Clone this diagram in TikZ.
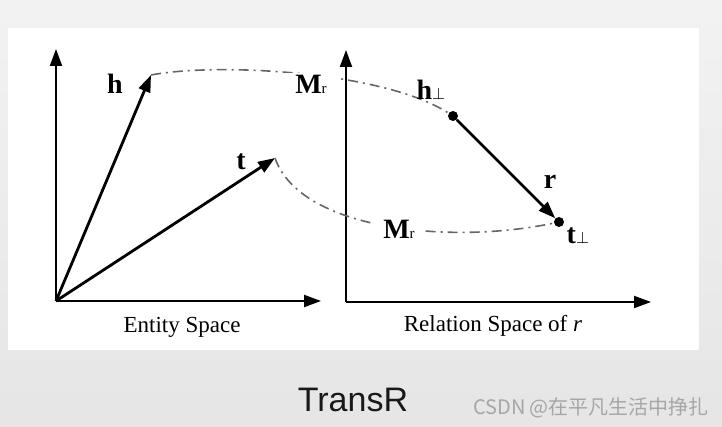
\documentclass[tikz,border=0pt]{standalone}
\usepackage{fontspec}
\setmainfont{Liberation Serif}
\newfontfamily\arialfont{Liberation Sans}
\newfontfamily\cjkfont{Noto Sans CJK SC}
\usetikzlibrary{arrows.meta}

\newcommand{\subr}{{\fontsize{7.5}{8}\selectfont\mdseries r}}
\newcommand{\subperp}{{\fontsize{8}{8}\selectfont$\perp$}}

\begin{document}
\begin{tikzpicture}[
    x=0.5pt, y=-0.5pt,
    >={Triangle[length=8.5pt,width=6pt]},
    axis/.style={->, line width=1pt},
    vec/.style={->, line width=1.4pt},
    proj/.style={draw=black!60, line width=0.8pt, dash pattern=on 5pt off 2.5pt on 1pt off 2.5pt},
    lbl/.style={font=\fontsize{14}{16}\selectfont\bfseries, inner sep=1pt},
    matlbl/.style={lbl, fill=white, inner xsep=5pt},
    spacename/.style={font=\fontsize{11.5}{13}\selectfont},
    dot/.style={circle, fill=black, inner sep=0pt, minimum size=5pt},
  ]
  \shade[top color=black!5, bottom color=black!10] (0,0) rectangle (722,427);
  \fill[white] (8,28) rectangle (699,350);

  % entity space
  \coordinate (o1) at (56,301);
  \coordinate (y1) at (56,49);
  \coordinate (x1) at (321,301);
  \coordinate (h) at (151,75);
  \coordinate (t) at (275,158);
  \draw[axis] (o1) -- (y1);
  \draw[axis] (o1) -- (x1);
  \draw[vec] (o1) -- (h);
  \draw[vec] (o1) -- (t);
  \node[spacename] (ent) at (182,327) {Entity Space};

  % relation space of r
  \coordinate (o2) at (346,302);
  \coordinate (y2) at (346,50);
  \coordinate (x2) at (651,302);
  \draw[axis] (o2) -- (y2);
  \draw[axis] (o2) -- (x2);
  \node[dot] (hp) at (453,116) {};
  \node[dot] (tp) at (559,222) {};
  \draw[vec] (hp) -- (tp);
  \node[spacename] (rel) at (493,326) {Relation Space of \textit{r}};

  % projections
  \draw[proj] (h) .. controls (220,62) and (385,72) .. (hp);
  \draw[proj] (t) .. controls (300,230) and (450,245) .. (tp);

  \node[lbl] (hl) at (115,84) {h};
  \node[lbl] (tl) at (241,162) {t};
  \node[matlbl] (m1) at (311,84) {M\subr};
  \node[matlbl] (m2) at (399,229) {M\subr};
  \node[lbl] (hpl) at (431,90) {h\subperp};
  \node[lbl] (rl) at (550,182) {r};
  \node[lbl] (tpl) at (578,236) {t\subperp};

  \node[font=\arialfont\fontsize{17}{20}\selectfont, text=black!90] (title) at (353,400) {TransR};
  \node[font=\cjkfont\fontsize{10}{12}\selectfont, text=black!35] (mark) at (591,408) {CSDN @在平凡生活中挣扎};
\end{tikzpicture}
\end{document}
